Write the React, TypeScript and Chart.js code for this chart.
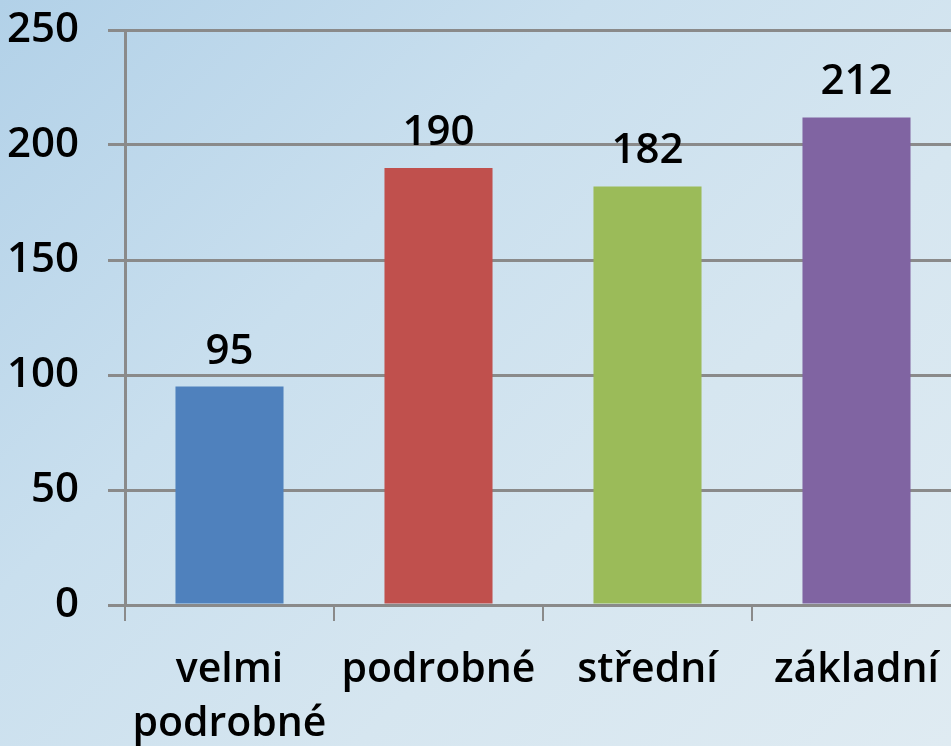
import React, { useEffect, useRef } from "react";
import { Chart, registerables } from "chart.js";

Chart.register(...registerables);

const categories: (string | string[])[] = [["velmi", "podrobné"], "podrobné", "střední", "základní"];
const values: number[] = [95, 190, 182, 212];
const barColors: string[] = ["#4F81BD", "#C0504D", "#9BBB59", "#8064A2"];
const yMin = 0;
const yMax = 250;
const yStep = 50;

const FONT = "'Open Sans', 'Noto Sans', sans-serif";
const WEIGHT = "600";
const GRID = "#8a8a8a";

const valueLabels = {
  id: "valueLabels",
  afterDatasetsDraw(chart: any) {
    const ctx = chart.ctx;
    const meta = chart.getDatasetMeta(0);
    ctx.save();
    ctx.font = `${WEIGHT} 42px ${FONT}`;
    ctx.fillStyle = "#000";
    ctx.textAlign = "center";
    ctx.textBaseline = "alphabetic";
    meta.data.forEach((el: any, i: number) => {
      ctx.fillText(String(values[i]), el.x, el.y - 23);
    });
    ctx.restore();
  },
};

export default function App() {
  const ref = useRef<HTMLCanvasElement | null>(null);
  useEffect(() => {
    if (!ref.current) return;
    const chart = new Chart(ref.current, {
      type: "bar",
      data: {
        labels: categories,
        datasets: [
          {
            data: values,
            backgroundColor: barColors,
            borderWidth: 0,
            barPercentage: 0.517,
            categoryPercentage: 1,
          },
        ],
      },
      options: {
        animation: false,
        responsive: false,
        devicePixelRatio: 1,
        layout: { padding: { top: 30, left: 0, right: 0, bottom: 0 } },
        plugins: {
          legend: { display: false },
          tooltip: { enabled: false },
          title: { display: false },
        },
        scales: {
          x: {
            offset: true,
            grid: {
              display: true,
              drawOnChartArea: false,
              drawTicks: true,
              tickLength: 16,
              color: GRID,
              lineWidth: 2,
              offset: true,
            },
            border: { display: true, color: GRID, width: 3 },
            ticks: {
              color: "#000",
              font: { family: FONT, size: 41, weight: WEIGHT, lineHeight: 1.3 },
              padding: 23,
              maxRotation: 0,
              minRotation: 0,
              autoSkip: false,
            },
            afterFit: (scale: any) => {
              scale.height = 141;
              scale.paddingLeft = 0;
              scale.paddingRight = 0;
            },
          },
          y: {
            min: yMin,
            max: yMax,
            ticks: {
              stepSize: yStep,
              color: "#000",
              font: { family: FONT, size: 42, weight: WEIGHT },
              padding: 29,
            },
            grid: {
              color: GRID,
              lineWidth: 3,
              tickLength: 17,
              drawTicks: true,
            },
            border: { display: true, color: GRID, width: 3 },
            afterFit: (scale: any) => {
              scale.width = 125;
              scale.paddingTop = 0;
              scale.paddingBottom = 0;
            },
          },
        },
      },
      plugins: [valueLabels],
    });
    return () => chart.destroy();
  }, []);

  return (
    <div
      style={{
        position: "absolute",
        left: 0,
        top: 0,
        width: 951,
        height: 746,
        overflow: "hidden",
        background:
          "linear-gradient(135deg, #b2d1e8 0%, #c9dfee 35%, #d6e6f0 65%, #dfebf2 100%)",
      }}
    >
      <canvas ref={ref} width={961} height={746} style={{ display: "block" }} />
    </div>
  );
}
